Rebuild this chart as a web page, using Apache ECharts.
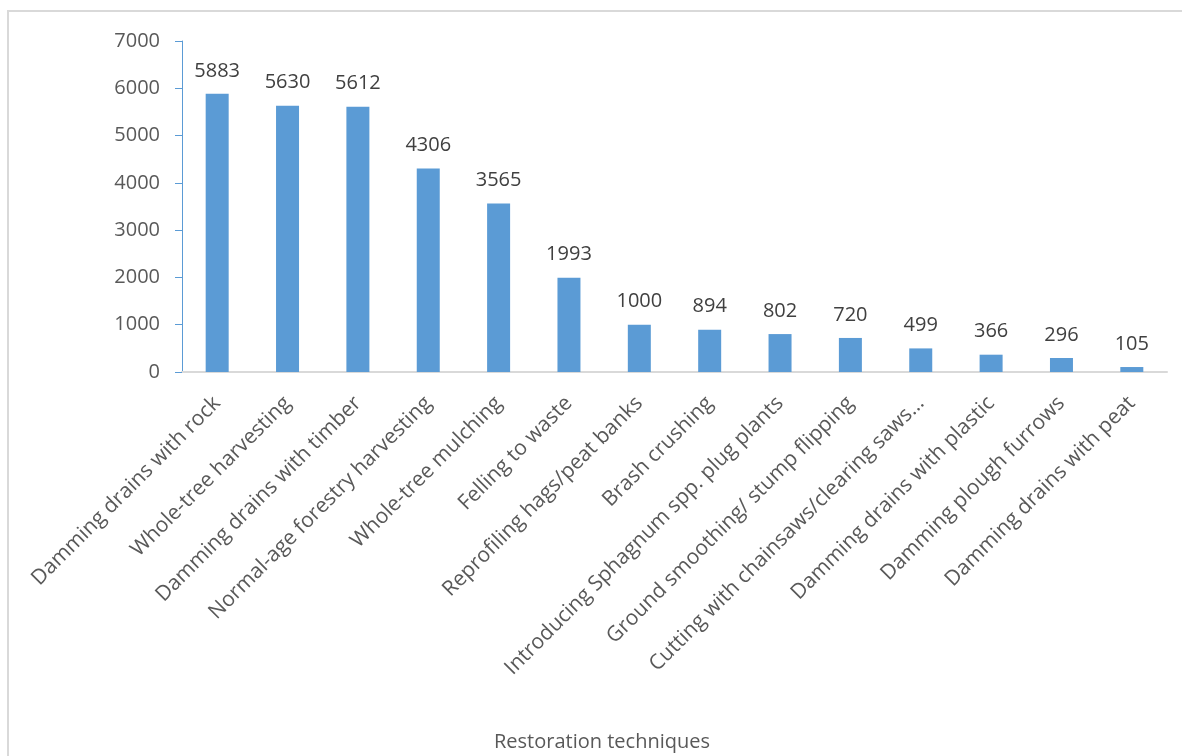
<!DOCTYPE html>
<html>
<head>
<meta charset="utf-8">
<script src="https://cdn.jsdelivr.net/npm/echarts@6/dist/echarts.min.js"></script>
<style>
  html, body { margin: 0; padding: 0; background: #fff; }
  #chart { width: 1182px; height: 756px; }
</style>
</head>
<body>
<div id="chart"></div>
<script>
const categories = [
  'Damming drains with rock',
  'Whole-tree harvesting',
  'Damming drains with timber',
  'Normal-age forestry harvesting',
  'Whole-tree mulching',
  'Felling to waste',
  'Reprofiling hags/peat banks',
  'Brash crushing',
  'Introducing Sphagnum spp. plug plants',
  'Ground smoothing/ stump flipping',
  'Cutting with chainsaws/clearing saws…',
  'Damming drains with plastic',
  'Damming plough furrows',
  'Damming drains with peat'
]
const values = [5883, 5630, 5612, 4306, 3565, 1993, 1000, 894, 802, 720, 499, 366, 296, 105]
const xTitle = 'Restoration techniques'

const font = '"Open Sans", sans-serif'
const chart = echarts.init(document.getElementById('chart'))

const options = {
  animation: false,
  textStyle: { fontFamily: font },
  grid: { top: 41, left: 182, right: 15, bottom: 384, containLabel: false },
  graphic: [
    {
      type: 'rect',
      shape: { x: 8, y: 11, width: 1200, height: 800 },
      style: { fill: 'none', stroke: '#d9d9d9', lineWidth: 2 },
      silent: true
    },
    {
      type: 'text',
      x: 602,
      y: 742,
      style: {
        text: xTitle,
        fontFamily: font,
        fontSize: 20,
        fill: '#595959',
        textAlign: 'center',
        textVerticalAlign: 'middle'
      }
    }
  ],
  xAxis: {
    type: 'category',
    data: categories,
    axisLine: { lineStyle: { color: '#d9d9d9', width: 2 } },
    axisTick: { show: false },
    axisLabel: {
      rotate: 45,
      interval: 0,
      margin: 28,
      fontSize: 21,
      color: '#595959',
      fontFamily: font
    }
  },
  yAxis: {
    type: 'value',
    min: 0,
    max: 7000,
    interval: 1000,
    splitLine: { show: false },
    axisLine: { show: true, lineStyle: { color: '#5b9bd5', width: 1 } },
    axisTick: { show: true, inside: false, length: 7, lineStyle: { color: '#5b9bd5' } },
    axisLabel: {
      fontSize: 20,
      color: '#595959',
      margin: 22,
      fontFamily: font,
      formatter: (v) => String(v)
    }
  },
  series: [
    {
      type: 'bar',
      data: values,
      barWidth: 23,
      itemStyle: { color: '#5b9bd5' },
      label: {
        show: true,
        position: 'top',
        distance: 13,
        fontSize: 20,
        color: '#404040',
        fontFamily: font
      }
    }
  ]
}

chart.setOption(options)
window.addEventListener('resize', function () {
  chart && chart.resize()
})
</script>
</body>
</html>
